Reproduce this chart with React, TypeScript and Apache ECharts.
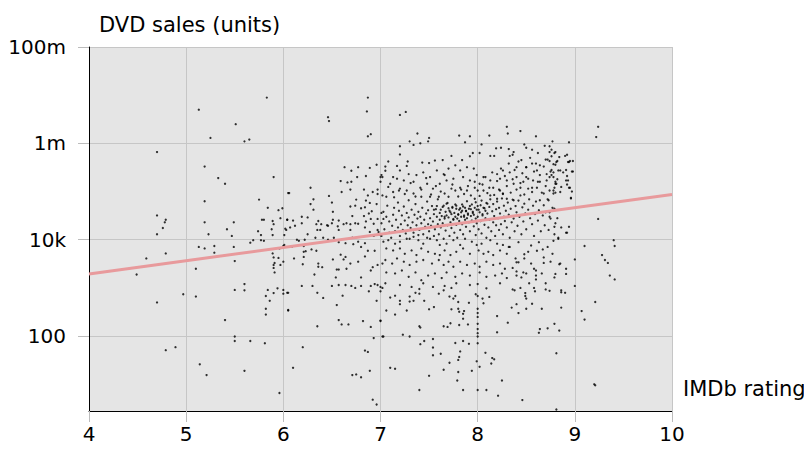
import React, { useEffect, useRef } from "react";
import * as echarts from "echarts";

// [IMDb rating, DVD sales (units)]
const lowRated: [number, number][] = [
  [5.83, 8.9e6], [5.13, 5.0e6], [5.51, 2.5e6], [5.25, 1.3e6], [5.6, 1.1e6], [5.65, 1.2e6], [4.7, 6.6e5], [5.19, 3.3e5],
  [5.9, 2.0e5], [5.33, 1.9e5], [5.4, 1.45e5], [6.05, 9.3e4], [5.19, 6.3e4], [5.75, 6.8e4], [5.84, 4.6e4], [5.95, 4.1e4],
  [5.99, 4.5e4], [4.7, 3.2e4], [4.79, 2.6e4], [4.78, 2.3e4], [4.76, 1.75e4], [5.19, 2.3e4], [5.49, 2.3e4], [5.42, 1.65e4],
  [5.78, 2.6e4], [5.8, 2.6e4], [5.89, 2.45e4], [5.9, 2.1e4], [5.97, 2.8e4], [6.04, 2.6e4], [6.03, 1.6e4], [5.74, 1.5e4],
  [5.88, 1.65e4], [4.7, 1.3e4], [5.23, 1.3e4], [5.47, 1.2e4], [5.77, 1.25e4], [5.89, 1.25e4], [6.01, 1.25e4], [5.66, 8.7e3],
  [5.69, 9.8e3], [5.77, 9.8e3], [5.8, 9.5e3], [5.13, 7.1e3], [5.19, 6.6e3], [5.29, 7.4e3], [5.29, 5.4e3], [5.49, 7.1e3],
  [4.79, 5.2e3], [4.59, 4.1e3], [4.49, 1.9e3], [5.1, 2.5e3], [5.5, 3.6e3], [5.89, 5.2e3], [5.9, 4.3e3], [5.95, 4.2e3],
  [5.91, 3.3e3], [5.9, 3.0e3], [5.97, 3.0e3], [6.0, 3.5e3], [5.9, 2.6e3], [5.91, 2.1e3], [5.96, 6.6e3], [6.0, 7.4e3],
  [6.01, 7.8e3], [5.5, 910], [5.6, 1200], [5.6, 890], [4.97, 740], [5.1, 660], [4.7, 500], [5.4, 215],
  [5.84, 910], [5.94, 980], [5.9, 780], [6.0, 910], [6.0, 760], [6.04, 790], [5.82, 680], [5.86, 540],
  [5.82, 370], [5.82, 280], [6.05, 350], [5.5, 98], [5.5, 79], [5.66, 79], [5.81, 71], [4.79, 51],
  [4.89, 59], [5.14, 26], [5.21, 15.5], [5.6, 19], [5.96, 6.6],
];

const midRated: [number, number][] = [
  [6.87, 8.9e6], [6.86, 4.6e6], [6.46, 3.5e6], [6.47, 2.9e6], [6.87, 1.4e6], [6.9, 1.55e6], [6.63, 3.2e5], [6.77, 3.2e5],
  [6.7, 2.7e5], [6.89, 3.1e5], [6.96, 3.6e5], [6.85, 2.1e5], [6.76, 2.0e5], [7.01, 2.2e5], [7.02, 2.0e5], [6.59, 1.65e5],
  [6.66, 1.55e5], [6.7, 1.6e5], [7.0, 1.6e5], [6.06, 9.3e4], [6.28, 1.2e5], [6.47, 8.1e4], [6.6, 9.8e4], [6.69, 1.1e5],
  [6.83, 1.1e5], [6.87, 8.3e4], [6.92, 9.8e4], [6.97, 1.1e5], [6.97, 8.9e4], [6.75, 6.8e4], [6.85, 6.5e4], [6.89, 5.8e4],
  [6.96, 5.5e4], [6.69, 4.9e4], [6.5, 5.9e4], [6.31, 6.9e4], [6.28, 5.5e4], [6.31, 4.2e4], [6.51, 3.8e4], [6.74, 5.1e4],
  [6.84, 4.7e4], [6.8, 4.5e4], [6.91, 3.9e4], [6.88, 3.5e4], [7.01, 3.6e4], [6.71, 3.1e4], [6.83, 3.1e4], [6.19, 3.0e4],
  [6.04, 2.6e4], [6.1, 2.5e4], [6.25, 2.9e4], [6.36, 2.45e4], [6.45, 2.0e4], [6.51, 2.6e4], [6.57, 2.5e4], [6.65, 2.2e4],
  [6.74, 2.2e4], [6.85, 2.4e4], [6.9, 2.7e4], [6.97, 2.7e4], [7.03, 2.7e4], [6.02, 1.7e4], [6.07, 1.8e4], [6.12, 1.95e4],
  [6.19, 2.2e4], [6.34, 2.1e4], [6.39, 2.1e4], [6.46, 1.95e4], [6.5, 2.2e4], [6.56, 1.9e4], [6.62, 2.1e4], [6.69, 2.1e4],
  [6.77, 2.15e4], [6.84, 1.8e4], [6.93, 2.15e4], [6.97, 1.6e4], [6.35, 1.6e4], [6.38, 1.6e4], [6.57, 1.6e4], [6.69, 1.6e4],
  [6.89, 1.45e4], [6.98, 1.45e4], [6.25, 1.3e4], [6.33, 1.1e4], [6.41, 1.1e4], [6.46, 1.0e4], [6.14, 1.0e4], [6.22, 1.0e4],
  [6.16, 9.5e3], [6.52, 1.1e4], [6.57, 8.9e3], [6.64, 8.5e3], [6.71, 1.1e4], [6.77, 9.1e3], [6.8, 7.1e3], [6.84, 8.5e3],
  [6.93, 1.2e4], [7.01, 1.2e4], [6.21, 7.4e3], [6.29, 6.3e3], [6.34, 5.9e3], [6.09, 7.2e3], [6.21, 5.6e3], [6.23, 5.8e3],
  [6.11, 4.1e3], [6.21, 4.4e3], [6.2, 3.1e3], [6.36, 3.2e3], [6.36, 2.75e3], [6.4, 2.7e3], [6.51, 3.9e3], [6.59, 4.9e3],
  [6.62, 3.9e3], [6.64, 4.4e3], [6.69, 3.2e3], [6.72, 8.1e3], [6.77, 3.5e3], [6.84, 4.5e3], [6.87, 5.9e3], [6.94, 5.9e3],
  [6.9, 2.3e3], [6.92, 2.7e3], [6.97, 3.0e3], [7.02, 3.2e3], [6.55, 2.4e3], [6.57, 2.4e3], [6.65, 2.5e3], [6.32, 1.9e3],
  [6.54, 1.65e3], [6.8, 1.65e3], [6.19, 1.1e3], [6.3, 1.1e3], [6.35, 790], [6.05, 790], [6.5, 1.1e3], [6.57, 1.15e3],
  [6.64, 1.15e3], [6.7, 1.1e3], [6.74, 1.0e3], [6.8, 1.1e3], [6.88, 850], [6.9, 1.1e3], [6.94, 1.2e3], [6.97, 1.15e3],
  [7.0, 850], [7.0, 1.05e3], [6.41, 620], [6.61, 690], [6.55, 440], [6.96, 540], [6.05, 340], [6.57, 215],
  [6.6, 175], [6.67, 175], [6.82, 205], [6.9, 155], [7.0, 205], [6.35, 160], [7.02, 98], [6.93, 91],
  [6.2, 59], [6.84, 50], [6.87, 47], [6.1, 22], [6.89, 19], [6.71, 15.5], [6.75, 16], [6.8, 14],
  [6.92, 4.8], [6.96, 3.8],
];

const highRatedTop: [number, number][] = [
  [7.2, 3.9e6], [7.26, 4.5e6], [7.38, 1.6e6], [7.5, 1.3e6], [7.49, 1.1e6], [7.81, 1.45e6], [7.92, 1.4e6], [7.87, 1.05e6],
  [8.12, 1.45e6], [8.3, 2.2e6], [8.31, 1.6e6], [8.44, 1.8e6], [8.6, 1.4e6], [8.77, 1.1e6], [8.94, 1.05e6], [9.24, 2.2e6],
  [9.22, 1.35e6], [7.2, 8.7e5], [7.3, 1.1e6], [7.34, 9.3e5], [7.41, 1.0e6], [7.2, 5.9e5], [7.08, 4.2e5], [7.05, 3.3e5],
  [7.05, 2.7e5], [7.0, 2.0e5], [7.17, 3.4e5], [7.28, 4.2e5], [7.27, 3.4e5], [7.43, 4.0e5], [7.5, 3.9e5], [7.56, 4.4e5],
  [7.64, 4.5e5], [7.73, 5.5e5], [7.84, 4.5e5], [7.92, 5.4e5], [8.02, 6.3e5], [7.95, 6.3e5], [8.04, 9.5e5], [8.13, 5.5e5],
  [8.17, 5.5e5], [8.19, 7.9e5], [8.24, 8.1e5], [8.32, 7.6e5], [8.37, 6.6e5], [8.36, 5.8e5], [8.33, 5.5e5], [8.48, 9.5e5],
  [8.5, 8.1e5], [8.56, 7.4e5], [8.62, 6.3e5], [8.69, 8.9e5], [8.74, 8.7e5], [8.76, 7.4e5], [8.8, 6.6e5], [8.7, 4.6e5],
  [8.82, 4.3e5], [8.9, 5.5e5], [8.94, 4.1e5], [8.98, 4.3e5], [8.91, 2.8e5], [8.97, 2.6e5], [8.93, 1.7e5], [8.95, 1.2e5],
  [8.96, 7.4e4],
];

const highRatedUpper: [number, number][] = [
  [8.45, 4.5e5], [8.4, 3.2e5], [8.5, 3.2e5], [8.56, 3.8e5], [8.61, 2.75e5], [8.64, 3.5e5], [8.71, 2.3e5], [8.78, 2.5e5],
  [8.85, 2.75e5], [8.5, 2.0e5], [8.57, 1.7e5], [8.64, 1.6e5], [8.71, 1.7e5], [8.78, 2.0e5], [8.81, 1.45e5], [8.61, 1.2e5],
  [8.56, 9.8e4], [8.68, 9.1e4], [8.74, 1.05e5], [8.78, 9.1e4], [8.85, 9.8e4], [8.64, 6.6e4], [8.73, 6.6e4], [8.44, 1.2e5],
  [8.37, 1.45e5], [8.3, 1.7e5], [8.23, 1.85e5], [8.2, 2.3e5], [8.26, 2.75e5], [8.33, 2.5e5], [8.4, 2.0e5], [8.47, 1.6e5],
  [8.52, 1.15e5], [8.44, 8.3e4], [8.37, 6.6e4], [8.3, 7.1e4], [8.23, 1.05e5], [8.16, 1.2e5], [8.13, 1.7e5], [8.06, 2.0e5],
  [8.02, 1.45e5], [7.99, 2.2e5], [7.96, 3.0e5], [7.89, 3.2e5], [7.82, 2.75e5], [7.77, 3.5e5], [7.7, 3.0e5], [7.65, 2.3e5],
  [7.58, 2.75e5], [7.51, 2.0e5], [7.44, 2.5e5], [7.37, 2.2e5], [7.34, 1.6e5], [7.41, 1.2e5], [7.48, 1.45e5], [7.54, 1.15e5],
  [7.61, 1.45e5], [7.68, 1.7e5], [7.75, 1.85e5], [7.85, 2.0e5], [7.92, 1.7e5], [7.97, 1.2e5], [8.06, 1.05e5], [8.13, 8.3e4],
  [8.2, 7.1e4], [8.26, 9.1e4], [7.89, 1.05e5], [7.82, 1.2e5], [7.73, 1.15e5], [7.66, 9.1e4], [7.6, 7.8e4], [7.51, 7.8e4],
  [7.42, 7.8e4], [7.34, 9.1e4], [7.27, 1.05e5], [7.2, 1.15e5], [7.13, 9.8e4], [7.06, 7.8e4], [7.1, 1.45e5], [7.17, 1.85e5],
  [7.24, 1.7e5], [7.29, 2.3e5], [7.2, 2.75e5], [7.13, 2.0e5],
  [7.8, 7.9e4], [7.83, 1.1e5], [7.86, 8.9e4], [7.9, 1.3e5], [7.93, 8.3e4], [7.97, 1.6e5], [8.0, 1.05e5], [8.02, 8.1e4],
  [8.05, 1.4e5], [8.08, 2.0e5], [8.1, 9.3e4], [8.12, 1.2e5], [8.15, 2.5e5], [8.17, 8.5e4], [8.2, 1.65e5], [8.22, 1.1e5],
  [8.24, 3.0e5], [8.26, 8.9e4], [8.28, 2.1e5], [8.3, 1.3e5], [8.32, 3.8e5], [8.34, 9.5e4], [8.36, 1.8e5], [8.38, 2.8e5],
  [8.4, 1.1e5], [8.42, 4.2e5], [8.44, 1.5e5], [8.46, 2.4e5], [8.48, 8.7e4], [8.5, 3.2e5], [8.52, 1.85e5], [8.54, 5.0e5],
  [8.56, 1.2e5], [8.58, 2.6e5], [8.6, 3.8e5], [8.62, 1.6e5], [8.64, 2.2e5], [8.66, 9.5e4], [8.68, 3.3e5], [8.7, 1.3e5],
  [8.72, 4.6e5], [8.74, 2.0e5], [8.76, 2.8e5], [8.78, 1.05e5], [8.8, 3.6e5], [8.82, 1.8e5], [8.84, 5.2e5], [8.86, 1.25e5],
  [8.88, 2.5e5],
  [7.02, 8.3e4], [7.08, 1.25e5], [7.14, 7.6e4], [7.19, 1.05e5], [7.25, 8.9e4], [7.31, 1.5e5], [7.36, 7.9e4], [7.42, 1.1e5],
  [7.47, 1.9e5], [7.52, 8.7e4], [7.57, 1.3e5], [7.62, 1.0e5], [7.66, 2.2e5], [7.7, 7.8e4], [7.74, 1.4e5], [7.77, 1.05e5],
];

const highRatedCore: [number, number][] = [
  [7.0, 1.25e4], [7.01, 2.2e4], [7.03, 3.8e4], [7.04, 1.65e4], [7.06, 3.0e4], [7.07, 5.1e4], [7.09, 1.4e4], [7.09, 2.4e4],
  [7.11, 1.1e4], [7.12, 1.95e4], [7.13, 3.3e4], [7.14, 4.6e4], [7.15, 1.5e4], [7.16, 2.6e4], [7.18, 5.9e4], [7.18, 1.8e4],
  [7.19, 4.0e4], [7.2, 1.2e4], [7.21, 2.1e4], [7.22, 3.2e4], [7.23, 1.6e4], [7.24, 4.9e4], [7.25, 2.5e4], [7.26, 1.35e4],
  [7.27, 3.6e4], [7.28, 2.0e4], [7.29, 6.6e4], [7.29, 2.9e4], [7.3, 1.05e4], [7.31, 1.75e4], [7.32, 4.2e4], [7.33, 2.3e4],
  [7.34, 1.4e4], [7.35, 3.3e4], [7.36, 5.5e4], [7.37, 2.0e4], [7.38, 2.75e4], [7.39, 1.25e4], [7.39, 3.8e4], [7.4, 1.6e4],
  [7.41, 3.0e4], [7.42, 2.2e4], [7.43, 4.6e4], [7.44, 1.3e4], [7.45, 2.6e4], [7.46, 1.85e4], [7.47, 3.5e4], [7.48, 6.2e4],
  [7.48, 1.1e4], [7.49, 2.1e4], [7.49, 4.1e4], [7.5, 1.5e4], [7.51, 2.8e4], [7.52, 1.95e4], [7.53, 5.0e4], [7.54, 2.4e4],
  [7.55, 1.2e4], [7.55, 3.4e4], [7.56, 1.65e4], [7.57, 4.3e4], [7.58, 3.0e4], [7.59, 2.1e4], [7.59, 6.9e4], [7.6, 1.3e4],
  [7.61, 2.6e4], [7.61, 3.6e4], [7.62, 1.8e4], [7.63, 3.1e4], [7.64, 4.8e4], [7.64, 2.2e4], [7.65, 1.05e4], [7.66, 2.75e4],
  [7.67, 3.8e4], [7.67, 1.55e4], [7.68, 3.2e4], [7.69, 2.0e4], [7.69, 5.8e4], [7.7, 2.9e4], [7.71, 1.2e4], [7.71, 4.0e4],
  [7.72, 2.3e4], [7.73, 3.4e4], [7.73, 1.75e4], [7.74, 4.6e4], [7.75, 2.6e4], [7.76, 1.4e4], [7.76, 3.6e4], [7.77, 3.0e4],
  [7.78, 2.05e4], [7.78, 5.1e4], [7.79, 2.75e4], [7.79, 1.1e4], [7.8, 3.3e4], [7.81, 2.45e4], [7.81, 4.2e4], [7.82, 1.6e4],
  [7.83, 3.0e4], [7.83, 3.7e4], [7.84, 2.1e4], [7.85, 4.9e4], [7.85, 1.3e4], [7.86, 3.2e4], [7.87, 2.6e4], [7.88, 4.0e4],
  [7.88, 1.85e4], [7.89, 6.3e4], [7.89, 2.8e4], [7.9, 3.5e4], [7.91, 2.3e4], [7.91, 4.4e4], [7.92, 1.5e4], [7.93, 3.1e4],
  [7.94, 5.4e4], [7.94, 2.5e4], [7.95, 3.8e4], [7.96, 1.9e4], [7.96, 3.3e4], [7.97, 7.1e4], [7.98, 2.75e4], [7.98, 1.25e4],
  [7.99, 4.2e4], [7.99, 2.2e4], [8.0, 3.0e4], [8.0, 5.0e4], [8.01, 1.65e4], [8.02, 3.7e4], [8.03, 2.45e4], [8.04, 6.5e4],
  [8.04, 1.35e4], [8.05, 3.2e4], [8.06, 4.6e4], [8.07, 2.05e4], [8.08, 4.0e4], [8.08, 2.8e4], [8.09, 1.1e4], [8.09, 5.8e4],
  [8.1, 3.5e4], [8.11, 1.8e4], [8.12, 4.8e4], [8.12, 2.6e4], [8.13, 6.9e4], [8.14, 1.5e4], [8.15, 3.9e4], [8.16, 2.3e4],
  [8.16, 5.5e4], [8.17, 3.1e4], [8.18, 1.2e4], [8.19, 4.3e4], [8.19, 2.0e4], [8.2, 6.2e4], [8.21, 2.8e4], [8.22, 1.6e4],
  [8.22, 4.6e4], [8.23, 3.5e4], [8.24, 2.1e4], [8.25, 7.2e4], [8.26, 1.3e4], [8.27, 5.1e4], [8.27, 3.0e4], [8.28, 2.45e4],
  [8.29, 4.0e4], [8.3, 1.8e4], [8.31, 5.9e4], [8.32, 3.3e4], [8.33, 1.1e4], [8.34, 4.4e4], [8.35, 2.3e4], [8.36, 6.8e4],
  [8.37, 2.75e4], [8.38, 1.5e4], [8.39, 5.0e4], [8.4, 3.7e4], [8.41, 1.95e4], [8.42, 6.5e4], [8.43, 3.0e4], [8.45, 1.3e4],
  [8.46, 4.7e4], [8.47, 2.4e4], [8.48, 5.6e4], [8.49, 3.5e4], [8.5, 1.65e4], [8.52, 4.2e4], [8.53, 6.9e4], [8.54, 2.8e4],
  [8.56, 2.1e4], [8.57, 5.1e4], [8.58, 1.2e4], [8.59, 3.4e4], [8.6, 6.2e4], [8.62, 2.5e4], [8.63, 4.1e4], [8.65, 1.5e4],
  [8.67, 3.2e4], [8.68, 5.2e4], [8.69, 2.0e4], [8.7, 3.7e4], [8.72, 6.9e4], [8.73, 1.6e4], [8.75, 2.75e4], [8.77, 4.6e4],
  [8.79, 1.3e4],
  [7.62, 4.2e4], [7.65, 5.1e4], [7.66, 3.0e4], [7.7, 4.5e4], [7.72, 3.7e4], [7.74, 4.8e4], [7.75, 2.7e4], [7.77, 5.4e4],
  [7.78, 4.4e4], [7.8, 3.4e4], [7.82, 4.5e4], [7.84, 4.0e4], [7.84, 5.4e4], [7.86, 3.0e4], [7.87, 4.6e4], [7.88, 3.9e4],
  [7.9, 3.3e4], [7.92, 5.0e4], [7.93, 4.3e4], [7.95, 3.6e4], [7.97, 4.6e4], [7.98, 6.0e4], [8.01, 4.2e4], [8.03, 5.2e4],
  [8.05, 3.4e4], [8.07, 4.5e4], [8.1, 5.6e4], [7.58, 5.0e4], [7.55, 4.2e4], [7.68, 5.6e4],
];

const highRatedLower: [number, number][] = [
  [7.03, 9.1e3], [7.08, 9.8e3], [7.15, 8.3e3], [7.2, 9.1e3], [7.27, 1.05e4], [7.34, 1.15e4], [7.39, 9.8e3], [7.44, 8.3e3],
  [7.51, 1.05e4], [7.58, 9.8e3], [7.61, 7.8e3], [7.68, 8.3e3], [7.75, 9.8e3], [7.82, 7.8e3], [7.87, 1.05e4], [7.94, 9.1e3],
  [7.99, 7.8e3], [8.04, 8.3e3], [8.13, 9.8e3], [8.2, 8.3e3], [8.26, 7.8e3], [8.32, 7.1e3], [7.06, 6.6e3], [7.13, 6.0e3],
  [7.2, 6.6e3], [7.25, 5.1e3], [7.32, 6.0e3], [7.37, 4.8e3], [7.42, 6.6e3], [7.49, 5.6e3], [7.56, 5.1e3], [7.61, 4.8e3],
  [7.66, 6.0e3], [7.72, 4.8e3], [7.78, 5.6e3], [7.85, 6.6e3], [7.92, 5.1e3], [8.01, 6.0e3], [8.06, 5.1e3], [8.11, 5.6e3],
  [8.16, 4.8e3], [8.23, 6.0e3], [8.3, 5.1e3], [7.05, 3.8e3], [7.12, 3.2e3], [7.17, 4.1e3], [7.24, 3.5e3], [7.3, 3.0e3],
  [7.37, 3.5e3], [7.44, 3.8e3], [7.53, 3.2e3], [7.6, 3.8e3], [7.65, 3.0e3], [7.7, 3.5e3], [7.75, 2.75e3], [7.82, 3.5e3],
  [7.89, 3.0e3], [7.97, 3.2e3], [8.02, 2.75e3], [8.09, 3.5e3], [8.16, 3.0e3], [8.23, 3.2e3], [8.28, 2.5e3], [7.06, 2.1e3],
  [7.15, 2.0e3], [7.22, 2.3e3], [7.29, 1.7e3], [7.36, 2.1e3], [7.42, 1.45e3], [7.49, 1.8e3], [7.56, 2.0e3], [7.63, 1.6e3],
  [7.68, 2.1e3], [7.77, 1.7e3], [7.84, 2.0e3], [7.92, 1.8e3], [8.02, 2.1e3], [8.09, 1.7e3], [8.18, 1.8e3], [8.25, 2.0e3],
  [8.3, 1.6e3], [7.05, 1.25e3], [7.2, 1.15e3], [7.32, 1.05e3], [7.44, 1.25e3], [7.54, 1.05e3], [7.78, 1.25e3], [7.92, 1.15e3],
  [8.09, 980], [8.23, 1.25e3],
  [8.33, 7.1e3], [8.36, 2.6e3], [8.42, 8.9e3], [8.45, 1.65e3], [8.52, 5.6e3], [8.55, 7.6e3], [8.58, 2.5e3], [8.63, 8.9e3],
  [8.66, 2.0e3], [8.72, 7.1e3], [8.75, 3.5e3], [8.78, 9.5e3],
];

const highRatedTail: [number, number][] = [
  [7.02, 1.0e3], [7.1, 630], [7.15, 690], [7.06, 340], [7.15, 280], [7.27, 340], [7.2, 540], [7.2, 460],
  [7.3, 520], [7.34, 540], [7.3, 660], [7.36, 790], [7.4, 760], [7.4, 950], [7.45, 540], [7.5, 360],
  [7.55, 400], [7.4, 160], [7.41, 150], [7.23, 107], [7.3, 98], [7.03, 98], [7.0, 210], [7.6, 760],
  [7.65, 890], [7.66, 1.1e3], [7.73, 1.0e3], [7.71, 660], [7.75, 600], [7.77, 680], [7.8, 510], [7.73, 360],
  [7.81, 320], [7.8, 370], [7.85, 290], [7.85, 230], [7.86, 330], [7.91, 490], [7.9, 175], [7.81, 170],
  [7.65, 160], [7.69, 155], [7.72, 185], [8.0, 680], [8.0, 1.2e3], [7.98, 740], [8.05, 600], [8.06, 480],
  [8.12, 650], [8.0, 370], [8.0, 300], [8.0, 250], [8.0, 180], [8.0, 140], [8.0, 115], [8.2, 260],
  [8.2, 120], [8.31, 190], [8.35, 390], [8.4, 460], [8.42, 300], [8.5, 370], [8.56, 470], [8.66, 370],
  [8.49, 780], [8.49, 680], [8.5, 600], [8.36, 930], [8.38, 890], [8.44, 1.0e3], [8.58, 1.0e3], [8.59, 850],
  [8.7, 930], [8.74, 870], [8.86, 890], [8.86, 810], [8.9, 790], [8.86, 390], [8.79, 180], [8.72, 145],
  [8.64, 140], [8.84, 130], [8.63, 117], [9.07, 330], [9.1, 220], [9.21, 510], [9.1, 7.4e3], [9.0, 3.9e3],
  [9.0, 1.1e3], [8.91, 2.5e3], [8.91, 1.95e3], [8.85, 3.2e3], [8.79, 1.65e3], [8.7, 1.25e3], [8.77, 5.1e3], [8.68, 4.3e3],
  [8.68, 3.3e3], [8.83, 1.1e4], [8.92, 1.4e4], [8.61, 5.9e3], [8.67, 6.3e3], [8.55, 3.2e3], [8.6, 2.3e3], [8.6, 1.8e3],
  [8.6, 1.5e3], [8.53, 1.25e3], [8.47, 2.1e3], [8.5, 2.0e3], [8.39, 4.1e3], [8.4, 3.4e3], [8.42, 3.4e3], [8.4, 2.2e3],
  [8.4, 1.8e3], [8.48, 5.0e3], [8.48, 4.1e3], [8.81, 44], [9.21, 9.5], [8.46, 4.7], [8.81, 3.0], [8.21, 5.8],
  [8.25, 12], [8.09, 7.6], [8.0, 7.6], [7.85, 7.6], [7.4, 7.6], [7.5, 15], [7.8, 18], [7.79, 12],
  [7.94, 19], [7.65, 20], [7.71, 28], [7.8, 32], [7.1, 22], [7.15, 21], [7.54, 58], [7.54, 40],
  [7.62, 43], [7.45, 79], [7.54, 87], [7.41, 68], [7.77, 72], [7.85, 79], [7.91, 69], [7.82, 48],
  [7.81, 37], [7.99, 30], [8.02, 23], [8.08, 45], [8.15, 35], [8.17, 33], [8.14, 27], [8.0, 71],
  [8.0, 98],
];

const highRatedRight: [number, number][] = [
  [8.74, 6.6e5], [8.79, 6.3e5], [8.76, 5.4e5], [8.92, 5.8e5], [8.81, 4.1e5], [8.78, 3.7e5], [8.74, 4.3e5], [8.93, 4.1e5],
  [8.95, 4.3e5], [8.83, 2.75e5], [8.75, 2.6e5], [8.76, 2.2e5], [8.98, 2.6e5], [8.92, 2.1e5], [8.91, 1.7e5], [8.92, 1.4e5],
  [8.8, 1.6e5], [8.8, 1.45e5], [8.79, 1.2e5], [8.8, 9.5e4], [8.94, 1.2e5], [8.97, 1.0e5], [8.96, 7.2e4], [8.79, 4.4e4],
  [8.74, 3.7e4], [8.74, 3.0e4], [8.82, 2.8e4], [8.8, 2.2e4], [8.79, 1.85e4], [8.86, 1.8e4], [8.94, 1.85e4], [8.91, 1.4e4],
  [8.83, 1.05e4], [8.84, 3.1e3], [8.8, 1.95e3],
  [9.24, 2.7e4], [9.4, 9.8e3], [9.41, 7.4e3], [9.28, 4.8e3], [9.31, 3.8e3], [9.34, 3.3e3], [9.36, 1.8e3], [9.41, 1.5e3],
  [9.2, 10],
];

// Regression line end points
const trendRatings = [4, 10];
const trendSales = [1950, 87000];

const yTickValues = [100, 10000, 1000000, 100000000];
const yTickLabels = ["100", "10k", "1m", "100m"];
const xTicks = [4, 5, 6, 7, 8, 9, 10];

const FONT = "DejaVu Sans";

export default function App() {
  const ref = useRef<HTMLDivElement>(null);
  useEffect(() => {
    if (!ref.current) return;
    const chart = echarts.init(ref.current, null, { renderer: "svg" });
    const films = [
      ...lowRated,
      ...midRated,
      ...highRatedTop,
      ...highRatedUpper,
      ...highRatedCore,
      ...highRatedLower,
      ...highRatedTail,
      ...highRatedRight,
    ];
    const gridColor = "#c6c6c6";
    chart.setOption({
      animation: false,
      grid: {
        left: 89,
        right: 140,
        top: 47,
        bottom: 40,
        show: true,
        backgroundColor: "#e5e5e5",
        borderWidth: 0,
      },
      xAxis: {
        type: "value",
        min: xTicks[0],
        max: xTicks[xTicks.length - 1],
        interval: 1,
        axisLine: { show: true, onZero: false, lineStyle: { color: "#000", width: 1 } },
        axisTick: { show: true, length: 11, lineStyle: { color: "#bcbcbc", width: 1 } },
        axisLabel: { color: "#000", fontSize: 20, fontFamily: FONT, margin: 13 },
        splitLine: { show: true, lineStyle: { color: gridColor, width: 1 } },
      },
      yAxis: {
        type: "log",
        logBase: 10,
        min: 2.79,
        max: 1e8,
        axisLine: { show: true, lineStyle: { color: "#000", width: 1 } },
        axisTick: {
          show: true,
          length: 11,
          customValues: yTickValues,
          lineStyle: { color: "#bcbcbc", width: 1 },
        },
        axisLabel: {
          color: "#000",
          fontSize: 20,
          fontFamily: FONT,
          margin: 23,
          customValues: yTickValues,
          formatter: (v: number) => {
            const i = yTickValues.findIndex((t) => Math.abs(Math.log10(t) - Math.log10(v)) < 1e-6);
            return i >= 0 ? yTickLabels[i] : "";
          },
        },
        splitLine: { show: true, lineStyle: { color: gridColor, width: 1 } },
      },
      series: [
        {
          type: "scatter",
          data: films,
          symbol: "circle",
          symbolSize: 2.3,
          itemStyle: { color: "#000" },
          silent: true,
          z: 2,
        },
        {
          type: "line",
          data: trendRatings.map((r, i) => [r, trendSales[i]]),
          symbol: "none",
          lineStyle: { color: "#e89a9c", width: 3 },
          silent: true,
          z: 3,
        },
      ],
      graphic: [
        {
          type: "text",
          x: 99,
          y: 25,
          style: {
            text: "DVD sales (units)",
            fontSize: 21,
            fontFamily: FONT,
            fill: "#000",
            textVerticalAlign: "middle",
            verticalAlign: "middle",
          },
        },
        {
          type: "text",
          x: 683,
          y: 389,
          style: {
            text: "IMDb rating",
            fontSize: 21,
            fontFamily: FONT,
            fill: "#000",
            textVerticalAlign: "middle",
            verticalAlign: "middle",
          },
        },
      ],
    });
    return () => chart.dispose();
  }, []);
  return <div ref={ref} style={{ width: 812, height: 451, margin: -8 }} />;
}
